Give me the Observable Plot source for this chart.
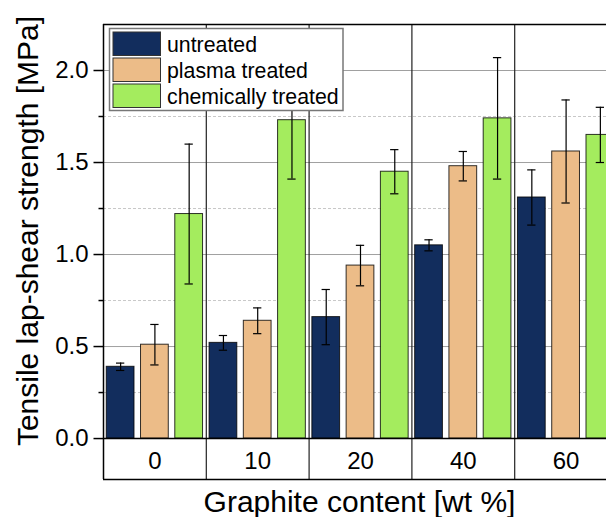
<!DOCTYPE html>
<html><head><meta charset="utf-8">
<script src="https://cdn.jsdelivr.net/npm/d3@7"></script>
<script src="https://cdn.jsdelivr.net/npm/@observablehq/plot@0.6"></script>
<style>
html,body{margin:0;padding:0;overflow:hidden;background:#fff;width:606px;height:517px}
#chart{width:620px}
#chart svg{max-width:none !important;display:block}
</style>
</head><body><div id="chart"></div>
<script>
const categories = ["0", "10", "20", "40", "60"];
const treatments = ["untreated", "plasma treated", "chemically treated"];
const colors = ["#122d5d", "#ecbc88", "#a4ec5e"];
const untreated = [0.39, 0.52, 0.66, 1.05, 1.31];
const untreatedErr = [0.02, 0.04, 0.15, 0.03, 0.15];
const plasma = [0.51, 0.64, 0.94, 1.48, 1.56];
const plasmaErr = [0.11, 0.07, 0.11, 0.08, 0.28];
const chemical = [1.22, 1.73, 1.45, 1.74, 1.65];
const chemicalErr = [0.38, 0.32, 0.12, 0.33, 0.15];
const yMajorTicks = [0, 0.5, 1.0, 1.5, 2.0];
const yMinorTicks = [0.25, 0.75, 1.25, 1.75];
const xTitle = "Graphite content [wt %]";
const yTitle = "Tensile lap-shear strength [MPa]";

const values = [untreated, plasma, chemical];
const errs = [untreatedErr, plasmaErr, chemicalErr];
const rows = [];
categories.forEach((c, i) => treatments.forEach((t, k) => {
  const slot = i * 3 + k;
  rows.push({category: c, treatment: t, color: colors[k],
    x1: slot + 0.095, x2: slot + 0.905, xc: slot + 0.5,
    value: values[k][i], lo: values[k][i] - errs[k][i], hi: values[k][i] + errs[k][i]});
}));
const yMin = -0.2225, yMax = 2.25;
const nSlots = categories.length * 3;
const boundaries = d3.range(1, categories.length).map(i => i * 3);
const catLabels = categories.map((c, i) => ({label: c, x: i * 3 + 1.5}));
const capHalf = 0.121;

const plot = Plot.plot({
  width: 620, height: 517,
  marginTop: 24, marginBottom: 38, marginLeft: 103, marginRight: 3,
  style: {fontFamily: "'Liberation Sans', Arial, sans-serif", fontSize: "24px", background: "#fff", color: "#000", overflow: "visible"},
  x: {type: "linear", domain: [0, nSlots], axis: null},
  y: {domain: [yMin, yMax], label: null},
  marks: [
    Plot.ruleY(yMinorTicks, {x1: 0, x2: nSlots, stroke: "#c8c8c8", strokeDasharray: "3,2", strokeWidth: 1}),
    Plot.ruleY(yMajorTicks.slice(1), {x1: 0, x2: nSlots, stroke: "#a0a0a0", strokeWidth: 1}),
    Plot.ruleX(boundaries, {y1: yMin, y2: yMax, stroke: "#222", strokeWidth: 1.2}),
    Plot.rectY(rows, {x1: "x1", x2: "x2", y1: 0, y2: "value", fill: "color", stroke: "#000", strokeOpacity: 0.8, strokeWidth: 1}),
    Plot.ruleX(rows, {x: "xc", y1: "lo", y2: "hi", stroke: "#000", strokeWidth: 1.2}),
    Plot.ruleY(rows, {y: "hi", x1: d => d.xc - capHalf, x2: d => d.xc + capHalf, stroke: "#000", strokeWidth: 1.2}),
    Plot.ruleY(rows, {y: "lo", x1: d => d.xc - capHalf, x2: d => d.xc + capHalf, stroke: "#000", strokeWidth: 1.2}),
    Plot.ruleY([0], {x1: 0, x2: nSlots, stroke: "#000", strokeWidth: 1.5}),
    Plot.ruleY([yMax, yMin], {x1: 0, x2: nSlots, stroke: "#000", strokeWidth: 1.5}),
    Plot.ruleX([0], {y1: yMin, y2: yMax, stroke: "#000", strokeWidth: 1.5}),
    Plot.text(catLabels, {x: "x", y: -0.122, text: "label", fontSize: 24}),
    Plot.axisY({ticks: yMajorTicks, tickSize: 9.5, tickFormat: () => "", strokeWidth: 1.5, label: null}),
    Plot.axisY({ticks: yMinorTicks, tickSize: 4.5, tickFormat: () => "", strokeWidth: 1.5, label: null}),
    Plot.text(yMajorTicks, {x: 0, y: d => d, text: d => d.toFixed(1), textAnchor: "end", dx: -15, fontSize: 24})
  ]
});
document.getElementById("chart").appendChild(plot);
plot.style.maxWidth = "none";

const svg = d3.select(plot);
const ff = "'Liberation Sans', Arial, sans-serif";
svg.append("text").attr("x", 359.5).attr("y", 512).attr("text-anchor", "middle")
  .attr("font-family", ff).attr("font-size", 30).attr("fill", "#000").text(xTitle);
svg.append("text").attr("transform", "translate(37.5,231) rotate(-90)").attr("text-anchor", "middle")
  .attr("font-family", ff).attr("font-size", 30).attr("fill", "#000").text(yTitle);

const lg = svg.append("g").attr("text-anchor", "start");
lg.append("rect").attr("x", 109.5).attr("y", 28.5).attr("width", 233.5).attr("height", 82)
  .attr("fill", "#fff").attr("stroke", "#777").attr("stroke-width", 1.5);
treatments.forEach((t, k) => {
  lg.append("rect").attr("x", 113).attr("y", 32 + k * 26).attr("width", 47.5).attr("height", 23.5)
    .attr("fill", colors[k]).attr("stroke", "#333").attr("stroke-width", 1);
  lg.append("text").attr("x", 167).attr("y", 51.5 + k * 26.3).attr("text-anchor", "start").attr("font-family", ff)
    .attr("font-size", 21.3).attr("fill", "#000").text(t);
});
</script>
</body></html>
